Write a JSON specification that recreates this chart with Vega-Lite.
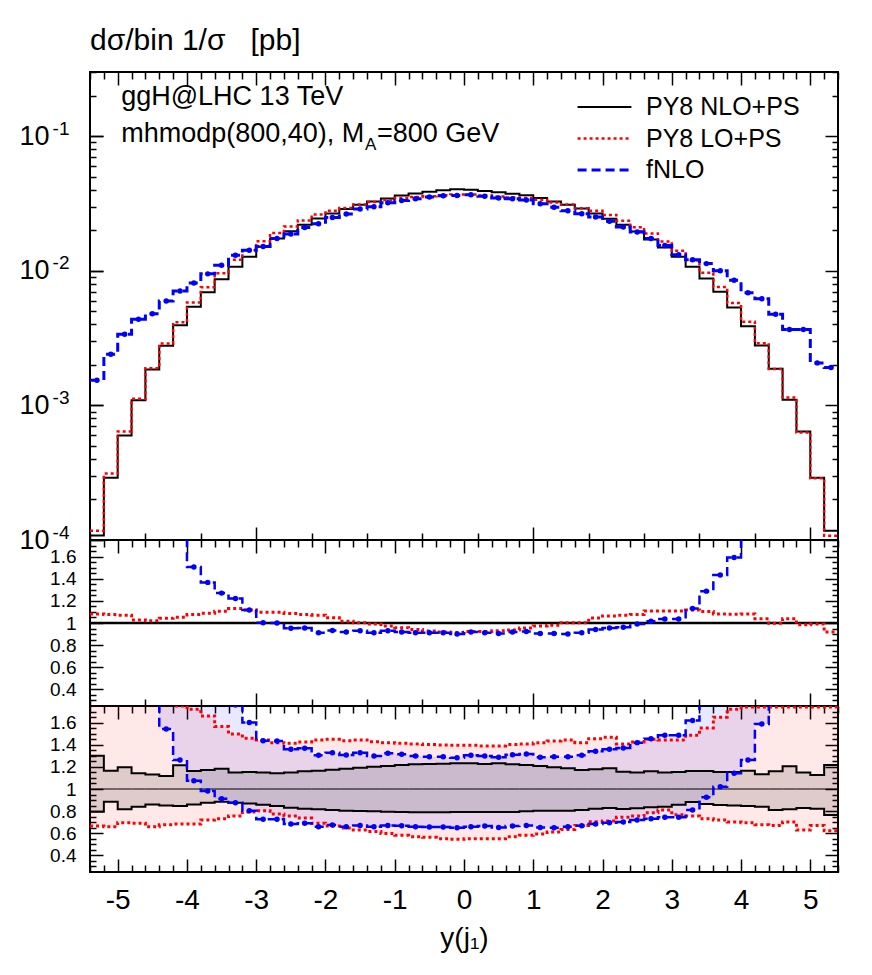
{
"$schema": "https://vega.github.io/schema/vega-lite/v6.json",
"padding": {"left": 17, "top": 25, "right": 5, "bottom": 5},
"background": "white",
"spacing": 0,
"bounds": "flush",
"config": {
 "font": "Liberation Sans",
 "view": {"stroke": "black", "strokeWidth": 2},
 "axis": {"domain": false, "grid": false, "tickColor": "black", "tickWidth": 1.5, "labelColor": "black", "labelFont": "Liberation Sans", "titleColor": "black", "titleFont": "Liberation Sans", "titleFontWeight": "normal", "labelOverlap": false, "labelFlush": false}
},
"datasets": {"h": [
{"xlo":-5.4,"xc":-5.3,"nlo":0.000108,"lo":0.000117,"fnlo":0.00154,"rn":1,"rlo":1.082,"rf":14.3,"nu":1.301,"nd":0.795,"lu":1.85,"ld":0.665,"fu":19,"fd":10},
{"xlo":-5.2,"xc":-5.1,"nlo":0.00029,"lo":0.000312,"fnlo":0.0024,"rn":1,"rlo":1.076,"rf":8.28,"nu":1.166,"nd":0.885,"lu":1.85,"ld":0.659,"fu":11,"fd":6},
{"xlo":-5.0,"xc":-4.9,"nlo":0.000598,"lo":0.00064,"fnlo":0.00338,"rn":1,"rlo":1.07,"rf":5.65,"nu":1.196,"nd":0.816,"lu":1.85,"ld":0.696,"fu":7.5,"fd":4},
{"xlo":-4.8,"xc":-4.7,"nlo":0.00109,"lo":0.001119,"fnlo":0.00437,"rn":1,"rlo":1.027,"rf":4.01,"nu":1.142,"nd":0.84,"lu":1.85,"ld":0.69,"fu":5.3,"fd":2.9},
{"xlo":-4.6,"xc":-4.5,"nlo":0.00185,"lo":0.001889,"fnlo":0.0048,"rn":1,"rlo":1.021,"rf":2.59,"nu":1.13,"nd":0.861,"lu":1.85,"ld":0.659,"fu":3.4,"fd":1.85},
{"xlo":-4.4,"xc":-4.3,"nlo":0.00277,"lo":0.002886,"fnlo":0.00596,"rn":1,"rlo":1.042,"rf":2.15,"nu":1.118,"nd":0.852,"lu":1.85,"ld":0.677,"fu":2.8,"fd":1.543},
{"xlo":-4.2,"xc":-4.1,"nlo":0.00394,"lo":0.004145,"fnlo":0.00709,"rn":1,"rlo":1.052,"rf":1.8,"nu":1.214,"nd":0.846,"lu":1.75,"ld":0.683,"fu":2.3,"fd":1.262},
{"xlo":-4.0,"xc":-3.9,"nlo":0.0054,"lo":0.00581,"fnlo":0.00813,"rn":1,"rlo":1.076,"rf":1.506,"nu":1.163,"nd":0.861,"lu":1.72,"ld":0.683,"fu":1.95,"fd":1.075},
{"xlo":-3.8,"xc":-3.7,"nlo":0.00694,"lo":0.00755,"fnlo":0.00949,"rn":1,"rlo":1.088,"rf":1.367,"nu":1.172,"nd":0.876,"lu":1.66,"ld":0.72,"fu":1.8,"fd":0.982},
{"xlo":-3.6,"xc":-3.5,"nlo":0.00867,"lo":0.00959,"fnlo":0.01101,"rn":1,"rlo":1.106,"rf":1.27,"nu":1.184,"nd":0.885,"lu":1.564,"ld":0.732,"fu":1.78,"fd":0.913},
{"xlo":-3.4,"xc":-3.3,"nlo":0.0107,"lo":0.01209,"fnlo":0.01306,"rn":1,"rlo":1.13,"rf":1.221,"nu":1.148,"nd":0.876,"lu":1.497,"ld":0.756,"fu":1.76,"fd":0.876},
{"xlo":-3.2,"xc":-3.1,"nlo":0.0127,"lo":0.0142,"fnlo":0.0142,"rn":1,"rlo":1.118,"rf":1.118,"nu":1.154,"nd":0.87,"lu":1.458,"ld":0.792,"fu":1.6,"fd":0.804},
{"xlo":-3.0,"xc":-2.9,"nlo":0.0151,"lo":0.01656,"fnlo":0.01515,"rn":1,"rlo":1.097,"rf":1.003,"nu":1.148,"nd":0.858,"lu":1.443,"ld":0.804,"fu":1.437,"fd":0.726},
{"xlo":-2.8,"xc":-2.7,"nlo":0.0174,"lo":0.01909,"fnlo":0.0174,"rn":1,"rlo":1.097,"rf":1.0,"nu":1.142,"nd":0.846,"lu":1.419,"ld":0.774,"fu":1.434,"fd":0.726},
{"xlo":-2.6,"xc":-2.5,"nlo":0.0197,"lo":0.02137,"fnlo":0.01875,"rn":1,"rlo":1.085,"rf":0.952,"nu":1.148,"nd":0.831,"lu":1.413,"ld":0.756,"fu":1.359,"fd":0.683},
{"xlo":-2.4,"xc":-2.3,"nlo":0.022,"lo":0.02367,"fnlo":0.02101,"rn":1,"rlo":1.076,"rf":0.955,"nu":1.16,"nd":0.822,"lu":1.425,"ld":0.738,"fu":1.368,"fd":0.69},
{"xlo":-2.2,"xc":-2.1,"nlo":0.0245,"lo":0.02622,"fnlo":0.02234,"rn":1,"rlo":1.07,"rf":0.912,"nu":1.166,"nd":0.816,"lu":1.443,"ld":0.69,"fu":1.304,"fd":0.659},
{"xlo":-2.0,"xc":-1.9,"nlo":0.0267,"lo":0.02798,"fnlo":0.02491,"rn":1,"rlo":1.048,"rf":0.933,"nu":1.175,"nd":0.81,"lu":1.449,"ld":0.665,"fu":1.328,"fd":0.674},
{"xlo":-1.8,"xc":-1.7,"nlo":0.0288,"lo":0.02923,"fnlo":0.02644,"rn":1,"rlo":1.015,"rf":0.918,"nu":1.184,"nd":0.804,"lu":1.437,"ld":0.647,"fu":1.307,"fd":0.659},
{"xlo":-1.6,"xc":-1.5,"nlo":0.031,"lo":0.03109,"fnlo":0.02883,"rn":1,"rlo":1.003,"rf":0.93,"nu":1.193,"nd":0.801,"lu":1.443,"ld":0.629,"fu":1.328,"fd":0.671},
{"xlo":-1.4,"xc":-1.3,"nlo":0.0328,"lo":0.0325,"fnlo":0.02991,"rn":1,"rlo":0.991,"rf":0.912,"nu":1.202,"nd":0.798,"lu":1.428,"ld":0.617,"fu":1.298,"fd":0.659},
{"xlo":-1.2,"xc":-1.1,"nlo":0.0345,"lo":0.03357,"fnlo":0.03209,"rn":1,"rlo":0.973,"rf":0.93,"nu":1.208,"nd":0.795,"lu":1.419,"ld":0.599,"fu":1.323,"fd":0.671},
{"xlo":-1.0,"xc":-0.9,"nlo":0.0362,"lo":0.03468,"fnlo":0.03323,"rn":1,"rlo":0.958,"rf":0.918,"nu":1.217,"nd":0.792,"lu":1.413,"ld":0.581,"fu":1.313,"fd":0.668},
{"xlo":-0.8,"xc":-0.7,"nlo":0.0376,"lo":0.03542,"fnlo":0.03429,"rn":1,"rlo":0.942,"rf":0.912,"nu":1.223,"nd":0.789,"lu":1.407,"ld":0.569,"fu":1.298,"fd":0.659},
{"xlo":-0.6,"xc":-0.5,"nlo":0.0387,"lo":0.03587,"fnlo":0.03529,"rn":1,"rlo":0.927,"rf":0.912,"nu":1.226,"nd":0.789,"lu":1.401,"ld":0.563,"fu":1.292,"fd":0.656},
{"xlo":-0.4,"xc":-0.3,"nlo":0.0396,"lo":0.03635,"fnlo":0.03612,"rn":1,"rlo":0.918,"rf":0.912,"nu":1.229,"nd":0.789,"lu":1.398,"ld":0.551,"fu":1.292,"fd":0.656},
{"xlo":-0.2,"xc":-0.1,"nlo":0.0403,"lo":0.03687,"fnlo":0.03627,"rn":1,"rlo":0.915,"rf":0.9,"nu":1.232,"nd":0.792,"lu":1.395,"ld":0.545,"fu":1.283,"fd":0.65},
{"xlo":0.0,"xc":0.1,"nlo":0.04,"lo":0.03696,"fnlo":0.03672,"rn":1,"rlo":0.924,"rf":0.918,"nu":1.232,"nd":0.792,"lu":1.395,"ld":0.551,"fu":1.304,"fd":0.659},
{"xlo":0.2,"xc":0.3,"nlo":0.0392,"lo":0.03622,"fnlo":0.03575,"rn":1,"rlo":0.924,"rf":0.912,"nu":1.226,"nd":0.792,"lu":1.389,"ld":0.551,"fu":1.298,"fd":0.665},
{"xlo":0.4,"xc":0.5,"nlo":0.0383,"lo":0.03562,"fnlo":0.0347,"rn":1,"rlo":0.93,"rf":0.906,"nu":1.232,"nd":0.792,"lu":1.389,"ld":0.551,"fu":1.286,"fd":0.653},
{"xlo":0.6,"xc":0.7,"nlo":0.0374,"lo":0.03501,"fnlo":0.03433,"rn":1,"rlo":0.936,"rf":0.918,"nu":1.223,"nd":0.792,"lu":1.401,"ld":0.569,"fu":1.31,"fd":0.665},
{"xlo":0.8,"xc":0.9,"nlo":0.0364,"lo":0.03476,"fnlo":0.03363,"rn":1,"rlo":0.955,"rf":0.924,"nu":1.217,"nd":0.798,"lu":1.407,"ld":0.581,"fu":1.317,"fd":0.671},
{"xlo":1.0,"xc":1.1,"nlo":0.0347,"lo":0.03376,"fnlo":0.03144,"rn":1,"rlo":0.973,"rf":0.906,"nu":1.208,"nd":0.804,"lu":1.419,"ld":0.593,"fu":1.286,"fd":0.653},
{"xlo":1.2,"xc":1.3,"nlo":0.0328,"lo":0.03211,"fnlo":0.02972,"rn":1,"rlo":0.979,"rf":0.906,"nu":1.196,"nd":0.804,"lu":1.434,"ld":0.611,"fu":1.292,"fd":0.65},
{"xlo":1.4,"xc":1.5,"nlo":0.031,"lo":0.03109,"fnlo":0.0279,"rn":1,"rlo":1.003,"rf":0.9,"nu":1.187,"nd":0.804,"lu":1.443,"ld":0.635,"fu":1.292,"fd":0.659},
{"xlo":1.6,"xc":1.7,"nlo":0.0291,"lo":0.02919,"fnlo":0.02654,"rn":1,"rlo":1.003,"rf":0.912,"nu":1.172,"nd":0.81,"lu":1.419,"ld":0.671,"fu":1.304,"fd":0.668},
{"xlo":1.8,"xc":1.9,"nlo":0.0267,"lo":0.0279,"fnlo":0.02515,"rn":1,"rlo":1.045,"rf":0.942,"nu":1.178,"nd":0.822,"lu":1.455,"ld":0.705,"fu":1.341,"fd":0.683},
{"xlo":2.0,"xc":2.1,"nlo":0.0244,"lo":0.02596,"fnlo":0.0233,"rn":1,"rlo":1.064,"rf":0.955,"nu":1.187,"nd":0.828,"lu":1.467,"ld":0.711,"fu":1.359,"fd":0.696},
{"xlo":2.2,"xc":2.3,"nlo":0.022,"lo":0.02354,"fnlo":0.02114,"rn":1,"rlo":1.07,"rf":0.961,"nu":1.157,"nd":0.819,"lu":1.407,"ld":0.744,"fu":1.371,"fd":0.702},
{"xlo":2.4,"xc":2.5,"nlo":0.0196,"lo":0.02109,"fnlo":0.01942,"rn":1,"rlo":1.076,"rf":0.991,"nu":1.148,"nd":0.825,"lu":1.425,"ld":0.756,"fu":1.419,"fd":0.72},
{"xlo":2.6,"xc":2.7,"nlo":0.0171,"lo":0.01896,"fnlo":0.01736,"rn":1,"rlo":1.109,"rf":1.015,"nu":1.16,"nd":0.834,"lu":1.449,"ld":0.786,"fu":1.455,"fd":0.732},
{"xlo":2.8,"xc":2.9,"nlo":0.0149,"lo":0.01652,"fnlo":0.01544,"rn":1,"rlo":1.109,"rf":1.036,"nu":1.148,"nd":0.84,"lu":1.443,"ld":0.81,"fu":1.485,"fd":0.744},
{"xlo":3.0,"xc":3.1,"nlo":0.0127,"lo":0.01408,"fnlo":0.01316,"rn":1,"rlo":1.109,"rf":1.036,"nu":1.154,"nd":0.858,"lu":1.443,"ld":0.768,"fu":1.485,"fd":0.744},
{"xlo":3.2,"xc":3.3,"nlo":0.0107,"lo":0.01196,"fnlo":0.01209,"rn":1,"rlo":1.118,"rf":1.13,"nu":1.163,"nd":0.882,"lu":1.485,"ld":0.756,"fu":1.618,"fd":0.81},
{"xlo":3.4,"xc":3.5,"nlo":0.00878,"lo":0.009684,"fnlo":0.01131,"rn":1,"rlo":1.103,"rf":1.288,"nu":1.163,"nd":0.864,"lu":1.552,"ld":0.732,"fu":1.8,"fd":0.925},
{"xlo":3.6,"xc":3.7,"nlo":0.007,"lo":0.007574,"fnlo":0.01003,"rn":1,"rlo":1.082,"rf":1.433,"nu":1.154,"nd":0.855,"lu":1.648,"ld":0.72,"fu":2.0,"fd":1.021},
{"xlo":3.8,"xc":3.9,"nlo":0.00534,"lo":0.005762,"fnlo":0.0085,"rn":1,"rlo":1.079,"rf":1.591,"nu":1.154,"nd":0.852,"lu":1.72,"ld":0.702,"fu":2.2,"fd":1.142},
{"xlo":4.0,"xc":4.1,"nlo":0.00387,"lo":0.004187,"fnlo":0.00686,"rn":1,"rlo":1.082,"rf":1.77,"nu":1.166,"nd":0.846,"lu":1.74,"ld":0.696,"fu":2.4,"fd":1.262},
{"xlo":4.2,"xc":4.3,"nlo":0.00279,"lo":0.002899,"fnlo":0.00619,"rn":1,"rlo":1.039,"rf":2.22,"nu":1.133,"nd":0.84,"lu":1.74,"ld":0.677,"fu":2.9,"fd":1.588},
{"xlo":4.4,"xc":4.5,"nlo":0.00187,"lo":0.001864,"fnlo":0.00476,"rn":1,"rlo":0.997,"rf":2.55,"nu":1.161,"nd":0.81,"lu":1.74,"ld":0.671,"fu":3.3,"fd":1.85},
{"xlo":4.6,"xc":4.7,"nlo":0.0011,"lo":0.001143,"fnlo":0.00366,"rn":1,"rlo":1.039,"rf":3.33,"nu":1.206,"nd":0.816,"lu":1.74,"ld":0.702,"fu":4.3,"fd":2.4},
{"xlo":4.8,"xc":4.9,"nlo":0.00064,"lo":0.00063,"fnlo":0.00366,"rn":1,"rlo":0.985,"rf":5.72,"nu":1.15,"nd":0.828,"lu":1.74,"ld":0.629,"fu":7.4,"fd":4.1},
{"xlo":5.0,"xc":5.1,"nlo":0.00029,"lo":0.000287,"fnlo":0.00207,"rn":1,"rlo":0.991,"rf":7.14,"nu":1.127,"nd":0.822,"lu":1.74,"ld":0.671,"fu":9.3,"fd":5.1},
{"xlo":5.2,"xc":5.3,"nlo":0.000117,"lo":0.0001074,"fnlo":0.00191,"rn":1,"rlo":0.918,"rf":16.3,"nu":1.218,"nd":0.765,"lu":1.74,"ld":0.623,"fu":21,"fd":11.7},
{"xlo":5.4,"xc":null,"nlo":0.000117,"lo":0.0001074,"fnlo":0.00191,"rn":1,"rlo":0.918,"rf":16.3,"nu":1.218,"nd":0.765,"lu":1.74,"ld":0.623,"fu":21,"fd":11.7}
]},
"data": {"name": "h"},
"vconcat": [
{
 "width": 748, "height": 468,
 "title": {"text": "dσ/bin 1/σ\u00a0\u00a0 [pb]", "anchor": "start", "frame": "group", "fontSize": 30, "font": "Liberation Sans", "fontWeight": "normal", "color": "black", "baseline": "bottom", "offset": -15},
 "layer": [
  {"layer": [
   {"transform": [{"fold": ["nlo", "lo", "fnlo"], "as": ["series", "val"]}],
    "mark": {"type": "line", "interpolate": "step-after", "clip": true},
    "encoding": {
     "x": {"field": "xlo", "type": "quantitative", "scale": {"domain": [-5.4, 5.4], "nice": false, "zero": false},
       "axis": {"orient": "bottom", "title": null, "labels": false, "values": [-5.4,-5.2,-5,-4.8,-4.6,-4.4,-4.2,-4,-3.8,-3.6,-3.4,-3.2,-3,-2.8,-2.6,-2.4,-2.2,-2,-1.8,-1.6,-1.4,-1.2,-1,-0.8,-0.6,-0.4,-0.2,0,0.2,0.4,0.6,0.8,1,1.2,1.4,1.6,1.8,2,2.2,2.4,2.6,2.8,3,3.2,3.4,3.6,3.8,4,4.2,4.4,4.6,4.8,5,5.2,5.4],
         "tickSize": {"condition": {"test": "abs(datum.value - round(datum.value)) < 0.01", "value": -13}, "value": -7}}},
     "y": {"field": "val", "type": "quantitative", "scale": {"type": "log", "domain": [0.0001, 0.3], "nice": false},
       "axis": {"orient": "left", "title": null, "labelOverlap": false, "values": [0.0001, 0.001, 0.01, 0.1],
         "labelExpr": "'10'", "labelFontSize": 27, "labelPadding": 54, "tickSize": -13}},
     "color": {"field": "series", "type": "nominal", "scale": {"domain": ["nlo", "lo", "fnlo"], "range": ["#000000", "#ff0000", "#0000ff"]},
       "legend": {"title": null, "orient": "none", "legendX": 486, "legendY": 21, "labelExpr": "datum.label == 'nlo' ? 'PY8 NLO+PS' : datum.label == 'lo' ? 'PY8 LO+PS' : 'fNLO'", "labelFontSize": 25, "labelFont": "Liberation Sans", "labelColor": "black", "symbolType": "stroke", "symbolSize": 2900, "symbolStrokeWidth": 2.5, "clipHeight": 28, "rowPadding": 3.5, "labelOffset": 13, "padding": 0, "labelLimit": 300}},
     "strokeDash": {"field": "series", "type": "nominal", "scale": {"domain": ["nlo", "lo", "fnlo"], "range": [[1, 0], [3, 3], [9, 5]]},
       "legend": {"title": null, "orient": "none", "legendX": 486, "legendY": 21, "labelExpr": "datum.label == 'nlo' ? 'PY8 NLO+PS' : datum.label == 'lo' ? 'PY8 LO+PS' : 'fNLO'", "labelFontSize": 25, "labelFont": "Liberation Sans", "labelColor": "black", "symbolType": "stroke", "symbolSize": 2900, "symbolStrokeWidth": 2.5, "clipHeight": 28, "rowPadding": 3.5, "labelOffset": 13, "padding": 0, "labelLimit": 300}},
     "strokeWidth": {"field": "series", "type": "nominal", "scale": {"domain": ["nlo", "lo", "fnlo"], "range": [2, 3, 2.5]}, "legend": null}
    }},
   {"mark": {"type": "point", "filled": true, "color": "#0000ff", "size": 30, "opacity": 1, "clip": true},
    "encoding": {"x": {"field": "xc", "type": "quantitative"}, "y": {"field": "fnlo", "type": "quantitative"}}},
   {"data": {"values": [{"tx": -4.95, "ty": 0.1706, "t": "ggH@LHC 13 TeV"}, {"tx": -4.95, "ty": 0.0906, "t": "mhmodp(800,40), M"}, {"tx": -1.256, "ty": 0.0906, "t": "=800 GeV"}]},
    "mark": {"type": "text", "align": "left", "baseline": "alphabetic", "fontSize": 27, "font": "Liberation Sans", "color": "black"},
    "encoding": {"x": {"field": "tx", "type": "quantitative"}, "y": {"field": "ty", "type": "quantitative"}, "text": {"field": "t"}}},
   {"data": {"values": [{"tx": -1.43, "ty": 0.079, "t": "A"}]},
    "mark": {"type": "text", "align": "left", "baseline": "alphabetic", "fontSize": 17, "font": "Liberation Sans", "color": "black"},
    "encoding": {"x": {"field": "tx", "type": "quantitative"}, "y": {"field": "ty", "type": "quantitative"}, "text": {"field": "t"}}}
  ]},
  {"mark": {"type": "point", "opacity": 0},
   "encoding": {
    "x": {"field": "xlo", "type": "quantitative",
      "axis": {"orient": "top", "title": null, "labels": false, "values": [-5.4,-5.2,-5,-4.8,-4.6,-4.4,-4.2,-4,-3.8,-3.6,-3.4,-3.2,-3,-2.8,-2.6,-2.4,-2.2,-2,-1.8,-1.6,-1.4,-1.2,-1,-0.8,-0.6,-0.4,-0.2,0,0.2,0.4,0.6,0.8,1,1.2,1.4,1.6,1.8,2,2.2,2.4,2.6,2.8,3,3.2,3.4,3.6,3.8,4,4.2,4.4,4.6,4.8,5,5.2,5.4],
        "tickSize": {"condition": {"test": "abs(datum.value - round(datum.value)) < 0.01", "value": -13}, "value": -7}}},
    "y": {"field": "nlo", "type": "quantitative",
      "axis": {"orient": "right", "title": null, "labels": false, "values": [0.0001,0.0002,0.0003,0.0004,0.0005,0.0006,0.0007,0.0008,0.0009,0.001,0.002,0.003,0.004,0.005,0.006,0.007,0.008,0.009,0.01,0.02,0.03,0.04,0.05,0.06,0.07,0.08,0.09,0.1,0.2,0.3],
        "tickSize": {"condition": {"test": "abs(log(datum.value)/LN10 - round(log(datum.value)/LN10)) < 0.01", "value": -13}, "value": -6}}}
   }},
  {"mark": {"type": "point", "opacity": 0},
   "encoding": {
    "x": {"field": "xlo", "type": "quantitative", "axis": null},
    "y": {"field": "nlo", "type": "quantitative",
      "axis": {"orient": "left", "title": null, "labels": false, "values": [0.0002,0.0003,0.0004,0.0005,0.0006,0.0007,0.0008,0.0009,0.002,0.003,0.004,0.005,0.006,0.007,0.008,0.009,0.02,0.03,0.04,0.05,0.06,0.07,0.08,0.09,0.2,0.3], "tickSize": -6}}
   }},
  {"mark": {"type": "point", "opacity": 0},
   "encoding": {
    "x": {"field": "xlo", "type": "quantitative", "axis": null},
    "y": {"field": "nlo", "type": "quantitative",
      "axis": {"orient": "left", "title": null, "labelOverlap": false, "values": [0.0001, 0.001, 0.01, 0.1],
        "labelExpr": "datum.value > 0.05 ? '-1' : datum.value > 0.005 ? '-2' : datum.value > 0.0005 ? '-3' : '-4'",
        "labelFontSize": 19, "labelPadding": 34, "labelOffset": -8, "tickSize": -13}}
   }}
 ],
 "resolve": {"axis": {"x": "independent", "y": "independent"}}
},
{
 "width": 748, "height": 166,
 "layer": [
  {"layer": [
   {"mark": {"type": "line", "interpolate": "step-after", "clip": true, "color": "#000000", "strokeWidth": 2.5},
    "encoding": {
     "x": {"field": "xlo", "type": "quantitative", "scale": {"domain": [-5.4, 5.4], "nice": false, "zero": false},
       "axis": {"orient": "bottom", "title": null, "labels": false, "values": [-5.4,-5.2,-5,-4.8,-4.6,-4.4,-4.2,-4,-3.8,-3.6,-3.4,-3.2,-3,-2.8,-2.6,-2.4,-2.2,-2,-1.8,-1.6,-1.4,-1.2,-1,-0.8,-0.6,-0.4,-0.2,0,0.2,0.4,0.6,0.8,1,1.2,1.4,1.6,1.8,2,2.2,2.4,2.6,2.8,3,3.2,3.4,3.6,3.8,4,4.2,4.4,4.6,4.8,5,5.2,5.4],
         "tickSize": {"condition": {"test": "abs(datum.value - round(datum.value)) < 0.01", "value": -13}, "value": -7}}},
     "y": {"field": "rn", "type": "quantitative", "scale": {"domain": [0.25, 1.75], "nice": false, "zero": false},
       "axis": {"orient": "left", "title": null, "labelOverlap": false, "values": [0.4,0.8,1.2,1.6],
         "labelExpr": "format(datum.value, '.1f')",
         "labelFontSize": 19, "labelPadding": 27, "tickSize": -13}}
    }},
   {"mark": {"type": "line", "interpolate": "step-after", "clip": true, "color": "#ff0000", "strokeWidth": 3, "strokeDash": [3, 3]},
    "encoding": {"x": {"field": "xlo", "type": "quantitative"}, "y": {"field": "rlo", "type": "quantitative"}}},
   {"mark": {"type": "line", "interpolate": "step-after", "clip": true, "color": "#0000ff", "strokeWidth": 2.5, "strokeDash": [9, 5]},
    "encoding": {"x": {"field": "xlo", "type": "quantitative"}, "y": {"field": "rf", "type": "quantitative"}}},
   {"mark": {"type": "point", "filled": true, "color": "#0000ff", "size": 30, "opacity": 1, "clip": true},
    "encoding": {"x": {"field": "xc", "type": "quantitative"}, "y": {"field": "rf", "type": "quantitative"}}}
  ]},
  {"mark": {"type": "point", "opacity": 0},
   "encoding": {
    "x": {"field": "xlo", "type": "quantitative",
      "axis": {"orient": "top", "title": null, "labels": false, "values": [-5.4,-5.2,-5,-4.8,-4.6,-4.4,-4.2,-4,-3.8,-3.6,-3.4,-3.2,-3,-2.8,-2.6,-2.4,-2.2,-2,-1.8,-1.6,-1.4,-1.2,-1,-0.8,-0.6,-0.4,-0.2,0,0.2,0.4,0.6,0.8,1,1.2,1.4,1.6,1.8,2,2.2,2.4,2.6,2.8,3,3.2,3.4,3.6,3.8,4,4.2,4.4,4.6,4.8,5,5.2,5.4],
        "tickSize": {"condition": {"test": "abs(datum.value - round(datum.value)) < 0.01", "value": -13}, "value": -7}}},
    "y": {"field": "rn", "type": "quantitative",
      "axis": {"orient": "right", "title": null, "labels": false, "values": [0.3,0.35,0.4,0.45,0.5,0.55,0.6,0.65,0.7,0.75,0.8,0.85,0.9,0.95,1,1.05,1.1,1.15,1.2,1.25,1.3,1.35,1.4,1.45,1.5,1.55,1.6,1.65,1.7],
        "tickSize": {"condition": {"test": "abs(datum.value*5 - round(datum.value*5)) < 0.01", "value": -13}, "value": -6}}}
   }},
  {"mark": {"type": "point", "opacity": 0},
   "encoding": {
    "x": {"field": "xlo", "type": "quantitative", "axis": null},
    "y": {"field": "rn", "type": "quantitative",
      "axis": {"orient": "left", "title": null, "labels": false, "values": [0.3,0.35,0.45,0.5,0.55,0.65,0.7,0.75,0.85,0.9,0.95,1.05,1.1,1.15,1.25,1.3,1.35,1.45,1.5,1.55,1.65,1.7], "tickSize": -6}}
   }},
  {"mark": {"type": "point", "opacity": 0},
   "encoding": {
    "x": {"field": "xlo", "type": "quantitative", "axis": null},
    "y": {"field": "rn", "type": "quantitative",
      "axis": {"orient": "left", "title": null, "labelOverlap": false, "values": [0.6, 1, 1.4],
        "labelExpr": "abs(datum.value-1) < 0.01 ? '1' : format(datum.value, '.1f')",
        "labelFontSize": 19, "labelPadding": 27, "tickSize": -13}}
   }}
 ],
 "resolve": {"axis": {"x": "independent", "y": "independent"}}
},
{
 "width": 748, "height": 166,
 "layer": [
  {"layer": [
   {"mark": {"type": "area", "interpolate": "step-after", "clip": true, "color": "#ff0000", "fillOpacity": 0.09},
    "encoding": {
     "x": {"field": "xlo", "type": "quantitative", "scale": {"domain": [-5.4, 5.4], "nice": false, "zero": false},
       "axis": {"orient": "bottom", "title": "y(j₁)", "titleFontSize": 28, "titlePadding": 10, "labelOverlap": false, "values": [-5,-4,-3,-2,-1,0,1,2,3,4,5],
         "labelExpr": "'' + round(datum.value)",
         "labelFontSize": 28, "labelPadding": 27, "tickSize": -13}},
     "y": {"field": "ld", "type": "quantitative", "scale": {"domain": [0.25, 1.75], "nice": false, "zero": false},
       "axis": {"orient": "left", "title": null, "labelOverlap": false, "values": [0.4,0.8,1.2,1.6],
         "labelExpr": "format(datum.value, '.1f')",
         "labelFontSize": 19, "labelPadding": 27, "tickSize": -13}},
     "y2": {"field": "lu"}
    }},
   {"mark": {"type": "area", "interpolate": "step-after", "clip": true, "color": "#0000ff", "fillOpacity": 0.09},
    "encoding": {"x": {"field": "xlo", "type": "quantitative"}, "y": {"field": "fd", "type": "quantitative"}, "y2": {"field": "fu"}}},
   {"mark": {"type": "area", "interpolate": "step-after", "clip": true, "color": "#000000", "fillOpacity": 0.12},
    "encoding": {"x": {"field": "xlo", "type": "quantitative"}, "y": {"field": "nd", "type": "quantitative"}, "y2": {"field": "nu"}}},
   {"mark": {"type": "line", "interpolate": "step-after", "clip": true, "color": "#000000", "strokeWidth": 1},
    "encoding": {"x": {"field": "xlo", "type": "quantitative"}, "y": {"field": "rn", "type": "quantitative"}}},
   {"mark": {"type": "line", "interpolate": "step-after", "clip": true, "color": "#000000", "strokeWidth": 2},
    "encoding": {"x": {"field": "xlo", "type": "quantitative"}, "y": {"field": "nu", "type": "quantitative"}}},
   {"mark": {"type": "line", "interpolate": "step-after", "clip": true, "color": "#000000", "strokeWidth": 2},
    "encoding": {"x": {"field": "xlo", "type": "quantitative"}, "y": {"field": "nd", "type": "quantitative"}}},
   {"mark": {"type": "line", "interpolate": "step-after", "clip": true, "color": "#ff0000", "strokeWidth": 3, "strokeDash": [3, 3]},
    "encoding": {"x": {"field": "xlo", "type": "quantitative"}, "y": {"field": "lu", "type": "quantitative"}}},
   {"mark": {"type": "line", "interpolate": "step-after", "clip": true, "color": "#ff0000", "strokeWidth": 3, "strokeDash": [3, 3]},
    "encoding": {"x": {"field": "xlo", "type": "quantitative"}, "y": {"field": "ld", "type": "quantitative"}}},
   {"mark": {"type": "line", "interpolate": "step-after", "clip": true, "color": "#0000ff", "strokeWidth": 2.5, "strokeDash": [9, 5]},
    "encoding": {"x": {"field": "xlo", "type": "quantitative"}, "y": {"field": "fu", "type": "quantitative"}}},
   {"mark": {"type": "line", "interpolate": "step-after", "clip": true, "color": "#0000ff", "strokeWidth": 2.5, "strokeDash": [9, 5]},
    "encoding": {"x": {"field": "xlo", "type": "quantitative"}, "y": {"field": "fd", "type": "quantitative"}}},
   {"mark": {"type": "point", "filled": true, "color": "#0000ff", "size": 30, "opacity": 1, "clip": true},
    "encoding": {"x": {"field": "xc", "type": "quantitative"}, "y": {"field": "fu", "type": "quantitative"}}},
   {"mark": {"type": "point", "filled": true, "color": "#0000ff", "size": 30, "opacity": 1, "clip": true},
    "encoding": {"x": {"field": "xc", "type": "quantitative"}, "y": {"field": "fd", "type": "quantitative"}}}
  ]},
  {"mark": {"type": "point", "opacity": 0},
   "encoding": {
    "x": {"field": "xlo", "type": "quantitative",
      "axis": {"orient": "top", "title": null, "labels": false, "values": [-5.4,-5.2,-5,-4.8,-4.6,-4.4,-4.2,-4,-3.8,-3.6,-3.4,-3.2,-3,-2.8,-2.6,-2.4,-2.2,-2,-1.8,-1.6,-1.4,-1.2,-1,-0.8,-0.6,-0.4,-0.2,0,0.2,0.4,0.6,0.8,1,1.2,1.4,1.6,1.8,2,2.2,2.4,2.6,2.8,3,3.2,3.4,3.6,3.8,4,4.2,4.4,4.6,4.8,5,5.2,5.4],
        "tickSize": {"condition": {"test": "abs(datum.value - round(datum.value)) < 0.01", "value": -13}, "value": -7}}},
    "y": {"field": "rn", "type": "quantitative",
      "axis": {"orient": "right", "title": null, "labels": false, "values": [0.3,0.35,0.4,0.45,0.5,0.55,0.6,0.65,0.7,0.75,0.8,0.85,0.9,0.95,1,1.05,1.1,1.15,1.2,1.25,1.3,1.35,1.4,1.45,1.5,1.55,1.6,1.65,1.7],
        "tickSize": {"condition": {"test": "abs(datum.value*5 - round(datum.value*5)) < 0.01", "value": -13}, "value": -6}}}
   }},
  {"mark": {"type": "point", "opacity": 0},
   "encoding": {
    "x": {"field": "xlo", "type": "quantitative",
      "axis": {"orient": "bottom", "title": null, "labels": false, "values": [-5.4,-5.2,-4.8,-4.6,-4.4,-4.2,-3.8,-3.6,-3.4,-3.2,-2.8,-2.6,-2.4,-2.2,-1.8,-1.6,-1.4,-1.2,-0.8,-0.6,-0.4,-0.2,0.2,0.4,0.6,0.8,1.2,1.4,1.6,1.8,2.2,2.4,2.6,2.8,3.2,3.4,3.6,3.8,4.2,4.4,4.6,4.8,5.2,5.4], "tickSize": -7}},
    "y": {"field": "rn", "type": "quantitative",
      "axis": {"orient": "left", "title": null, "labels": false, "values": [0.3,0.35,0.45,0.5,0.55,0.65,0.7,0.75,0.85,0.9,0.95,1.05,1.1,1.15,1.25,1.3,1.35,1.45,1.5,1.55,1.65,1.7], "tickSize": -6}}
   }},
  {"mark": {"type": "point", "opacity": 0},
   "encoding": {
    "x": {"field": "xlo", "type": "quantitative", "axis": null},
    "y": {"field": "rn", "type": "quantitative",
      "axis": {"orient": "left", "title": null, "labelOverlap": false, "values": [0.6, 1, 1.4],
        "labelExpr": "abs(datum.value-1) < 0.01 ? '1' : format(datum.value, '.1f')",
        "labelFontSize": 19, "labelPadding": 27, "tickSize": -13}}
   }}
 ],
 "resolve": {"axis": {"x": "independent", "y": "independent"}}
}
]
}
